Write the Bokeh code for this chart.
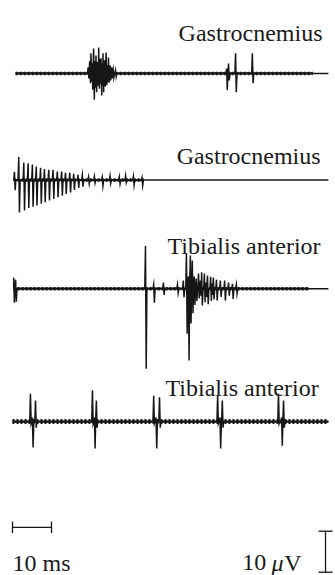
from bokeh.plotting import figure
from bokeh.models import Range1d
from bokeh.embed import file_html
from bokeh.resources import INLINE
from bokeh.core.properties import value

# ---------------- data (time in ms, amplitude in µV) ----------------
labels = ["Gastrocnemius", "Gastrocnemius", "Tibialis anterior", "Tibialis anterior"]
trace_start = [0.8, 0.3, 0.3, 0.0]
trace_end = [81.0, 81.0, 81.0, 81.0]
noise_end = [77.0, 33.6, 76.0, 81.0]

# trace 1 – Gastrocnemius (burst + two late spikes)
t1_t = [19.4, 19.8, 20.1, 20.4, 20.8, 21.1, 21.4, 21.8, 22.1, 22.4, 22.7, 23.0, 23.2, 23.6,
        24.0, 24.3, 24.6, 25.0, 25.4, 25.8, 26.4, 54.9, 55.4, 57.2, 61.5]
t1_up = [1.5, 3.0, 4.9, 2.5, 6.1, 3.0, 4.4, 2.8, 6.3, 3.5, 3.7, 2.5, 4.9, 3.2,
         5.1, 2.0, 3.9, 2.0, 1.5, 1.0, 0.8, 1.2, 2.4, 4.9, 4.9]
t1_dn = [1.2, 2.4, 2.0, 4.0, 6.4, 3.5, 4.6, 3.0, 3.7, 2.5, 5.4, 3.0, 4.6, 3.2,
         2.9, 2.2, 2.2, 1.7, 1.2, 1.0, 0.8, 4.1, 1.7, 4.6, 2.4]

# trace 2 – Gastrocnemius (decaying discharge, then silence)
t2_t = [0.5, 1.6, 2.9, 4.0, 5.1, 6.1, 7.2, 8.2, 9.3, 10.4, 11.5, 12.6, 13.6, 14.7, 15.7, 16.8, 17.9,
        19.5, 21.0, 23.0, 25.0, 27.4, 29.0, 31.0, 33.2]
t2_up = [2.0, 5.6, 4.3, 4.1, 3.8, 3.3, 3.0, 2.7, 2.5, 2.5, 2.1, 2.1, 1.8, 1.8, 1.5, 1.3, 1.2,
         0.8, 0.9, 0.7, 1.0, 0.8, 1.1, 0.9, 0.6]
t2_dn = [2.5, 7.9, 7.4, 6.8, 6.5, 6.2, 5.8, 5.4, 5.0, 4.6, 4.2, 3.8, 3.4, 3.0, 2.4, 1.9, 1.6,
         0.9, 0.7, 1.4, 0.8, 0.9, 0.6, 1.2, 1.3]

# trace 3 – Tibialis anterior (two large spikes + burst)
t3_t = [0.3, 0.8, 34.1, 36.2, 38.7, 42.3, 43.8, 44.6, 45.1, 45.6, 46.1, 46.6, 47.1, 47.7,
        48.2, 48.5, 49.2, 49.6, 50.0, 50.8, 51.1, 51.5, 52.3, 53.3, 54.4, 55.4, 56.4, 57.4]
t3_up = [2.7, 2.2, 10.5, 1.0, 1.5, 1.0, 2.0, 8.5, 3.0, 8.1, 6.9, 3.0, 2.5, 3.7,
         2.0, 4.0, 3.7, 1.5, 3.2, 2.9, 1.2, 2.7, 2.2, 2.0, 2.0, 1.5, 1.2, 1.0]
t3_dn = [3.4, 3.2, 19.5, 3.4, 1.5, 1.0, 2.1, 11.0, 17.5, 8.5, 6.0, 4.0, 3.0, 2.4,
         1.8, 4.1, 3.3, 2.0, 3.8, 3.0, 1.5, 2.6, 2.9, 2.0, 2.9, 1.7, 2.5, 1.2]

# trace 4 – Tibialis anterior (regular doublets)
t4_t = [4.6, 5.1, 5.9, 20.5, 21.0, 21.5, 36.2, 36.8, 37.7, 52.6, 53.2, 53.8, 68.2, 69.0, 69.5]
t4_up = [6.8, 1.0, 5.1, 7.6, 1.0, 5.1, 6.3, 1.0, 5.9, 6.3, 1.0, 5.1, 6.8, 1.0, 5.1]
t4_dn = [0.5, 6.3, 1.5, 0.5, 6.6, 1.5, 0.5, 6.6, 1.5, 0.5, 6.6, 1.5, 0.5, 5.9, 1.5]

# scale bars
time_bar_ms = 10
volt_bar_uv = 10

# ---------------- layout ----------------
PX_PER_MS = 3.9
PX_PER_UV = 4.1
W, H = 335, 575
x0 = -12 / PX_PER_MS
y0 = -8 / PX_PER_UV
offsets = [120.5, 94.5, 68.0, 35.6]
label_x = [79.5, 79.0, 79.0, 78.5]
label_y = [130.4, 100.3, 78.5, 43.9]
band_width = [3.5, 3.5, 3.5, 5.0]
INK = "#161616"
TXT = "#1a1a1a"
FONT = value("Liberation Serif")
FS = "24px"

p = figure(width=W, height=H, x_range=Range1d(x0, x0 + W / PX_PER_MS),
           y_range=Range1d(y0, y0 + H / PX_PER_UV), output_backend="svg",
           toolbar_location=None, min_border=0)
p.xaxis.visible = False
p.yaxis.visible = False
p.grid.visible = False
p.outline_line_color = None
p.background_fill_color = "white"
p.border_fill_color = "white"


def build(start, end, ts, ups, dns, w=0.18):
    xs, ys = [start], [0.0]
    n = len(ts)
    for i in range(n):
        t = ts[i]
        if t - w > xs[-1]:
            xs.append(t - w); ys.append(0.0)
        xs.append(t); ys.append(ups[i])
        xs.append(t + w); ys.append(-dns[i])
        nxt = ts[i + 1] if i + 1 < n else end
        if nxt - w > t + 2 * w:
            xs.append(t + 2 * w); ys.append(0.0)
    xs.append(end); ys.append(0.0)
    return xs, ys


traces = [(t1_t, t1_up, t1_dn), (t2_t, t2_up, t2_dn), (t3_t, t3_up, t3_dn), (t4_t, t4_up, t4_dn)]
for k, (ts, ups, dns) in enumerate(traces):
    off = offsets[k]
    # noisy baseline band (ripple texture)
    p.line([trace_start[k], noise_end[k]], [off, off], line_color=INK,
           line_width=band_width[k], line_dash="2 2")
    p.line([trace_start[k], noise_end[k]], [off, off], line_color=INK, line_width=2.2)
    xs, ys = build(trace_start[k], trace_end[k], ts, ups, dns)
    p.line(xs, [v + off for v in ys], line_color=INK, line_width=1.5, line_join="miter")

p.text(x=label_x, y=label_y, text=labels, text_font=FONT, text_font_size=FS,
       text_align="right", text_baseline="alphabetic", text_color=TXT)

# time scale bar
tb_y = 9.8
p.segment(x0=[0, 0, time_bar_ms], y0=[tb_y, tb_y - 1.4, tb_y - 1.4],
          x1=[time_bar_ms, 0, time_bar_ms], y1=[tb_y, tb_y + 1.4, tb_y + 1.4],
          line_color=INK, line_width=1.3)
p.text(x=[0], y=[1.2], text=["10 ms"], text_font=FONT, text_font_size=FS,
       text_align="left", text_baseline="alphabetic", text_color=TXT)

# voltage scale bar
vb_x = 80.26
vb_y0 = -1.15
p.segment(x0=[vb_x, vb_x - 1.8, vb_x - 1.8], y0=[vb_y0, vb_y0, vb_y0 + volt_bar_uv],
          x1=[vb_x, vb_x + 1.8, vb_x + 1.8], y1=[vb_y0 + volt_bar_uv, vb_y0, vb_y0 + volt_bar_uv],
          line_color=INK, line_width=1.3)
p.text(x=[58.9, 69.7], y=[1.2, 1.2], text=["10", "V"], text_font=FONT, text_font_size=FS,
       text_align="left", text_baseline="alphabetic", text_color=TXT)
p.text(x=[66.4], y=[1.2], text=["\u03bc"], text_font=FONT, text_font_size=FS,
       text_font_style="italic", text_align="left", text_baseline="alphabetic", text_color=TXT)

open("out.html", "w").write(file_html(p, INLINE))
